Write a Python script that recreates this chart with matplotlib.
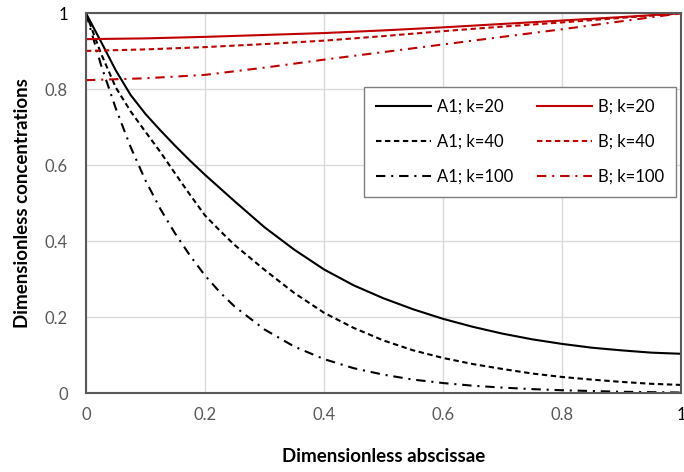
import matplotlib.pyplot as plt

x_a = [0, 0.025, 0.05, 0.075, 0.1, 0.125, 0.15, 0.175, 0.2, 0.225, 0.25, 0.3,
       0.35, 0.4, 0.45, 0.5, 0.55, 0.6, 0.65, 0.7, 0.75, 0.8, 0.85, 0.9, 0.95, 1.0]
a1_k20 = [1.0, 0.926, 0.85, 0.785, 0.735, 0.692, 0.651, 0.612, 0.575, 0.54,
          0.505, 0.437, 0.378, 0.326, 0.284, 0.25, 0.221, 0.196, 0.175, 0.157,
          0.142, 0.13, 0.12, 0.113, 0.107, 0.104]
a1_k40 = [1.0, 0.895, 0.805, 0.742, 0.688, 0.635, 0.578, 0.522, 0.468, 0.428,
          0.39, 0.325, 0.264, 0.212, 0.172, 0.139, 0.113, 0.093, 0.077, 0.064,
          0.052, 0.043, 0.036, 0.03, 0.025, 0.022]
a1_k100 = [1.0, 0.865, 0.75, 0.648, 0.56, 0.485, 0.42, 0.362, 0.31, 0.266,
           0.228, 0.168, 0.123, 0.09, 0.066, 0.049, 0.036, 0.027, 0.02, 0.015,
           0.011, 0.008, 0.006, 0.004, 0.003, 0.002]

# x positions for the B curves
x_b = [0, 0.1, 0.2, 0.3, 0.4, 0.5, 0.6, 0.7, 0.8, 0.9, 1.0]
b_k20 = [0.932, 0.934, 0.938, 0.943, 0.948, 0.955, 0.963, 0.972, 0.981, 0.99, 1.0]
b_k40 = [0.901, 0.905, 0.911, 0.919, 0.928, 0.94, 0.953, 0.965, 0.976, 0.988, 1.0]
b_k100 = [0.824, 0.829, 0.838, 0.857, 0.878, 0.898, 0.918, 0.938, 0.958, 0.979, 1.0]

ticks = [0, 0.2, 0.4, 0.6, 0.8, 1]
tick_labels = ['0', '0.2', '0.4', '0.6', '0.8', '1']

plt.rcParams['font.family'] = ['Lato', 'DejaVu Sans']

red = '#C00000'
dashed = (0, (2.6, 1.7))
dashdot = (0, (4.5, 2.8, 1.0, 2.8))

fig = plt.figure(figsize=(6.84, 4.72), dpi=100)
ax = fig.add_axes([86 / 684, 1 - 393.3 / 472, 595 / 684, 380 / 472])

ax.plot(x_a, a1_k20, color='black', lw=1.5, ls='-', label='A1; k=20')
ax.plot(x_a, a1_k40, color='black', lw=1.5, ls=dashed, label='A1; k=40')
ax.plot(x_a, a1_k100, color='black', lw=1.5, ls=dashdot, label='A1; k=100')
ax.plot(x_b, b_k20, color=red, lw=1.5, ls='-', label='B; k=20')
ax.plot(x_b, b_k40, color=red, lw=1.5, ls=dashed, label='B; k=40')
ax.plot(x_b, b_k100, color=red, lw=1.5, ls=dashdot, label='B; k=100')

ax.set_xlim(0, 1)
ax.set_ylim(0, 1)
ax.set_xticks(ticks)
ax.set_xticklabels(tick_labels)
ax.set_yticks(ticks)
ax.set_yticklabels(tick_labels)
ax.tick_params(length=0, labelsize=12, labelcolor='#595959')
ax.tick_params(axis='x', pad=10)
ax.tick_params(axis='y', pad=13)
# the "1" labels are drawn darker in the original
ax.get_xticklabels()[-1].set_color('black')
ax.get_yticklabels()[-1].set_color('black')
ax.grid(True, color='#D9D9D9', lw=1)
ax.set_axisbelow(True)
for s in ax.spines.values():
    s.set_color('#595959')
    s.set_linewidth(1.5)

ax.set_xlabel('Dimensionless abscissae', fontsize=13.5, fontweight='bold', labelpad=18)
ax.set_ylabel('Dimensionless concentrations', fontsize=13.5, fontweight='bold', labelpad=10)

ax.legend(ncol=2, loc='upper left', bbox_to_anchor=(0.453, 0.828), fontsize=12,
          frameon=True, fancybox=False, edgecolor='#7F7F7F', framealpha=1,
          handlelength=3.3, labelspacing=1.15, columnspacing=1.4,
          borderpad=0.7, handletextpad=0.4)

fig.savefig('out.png', dpi=100)
